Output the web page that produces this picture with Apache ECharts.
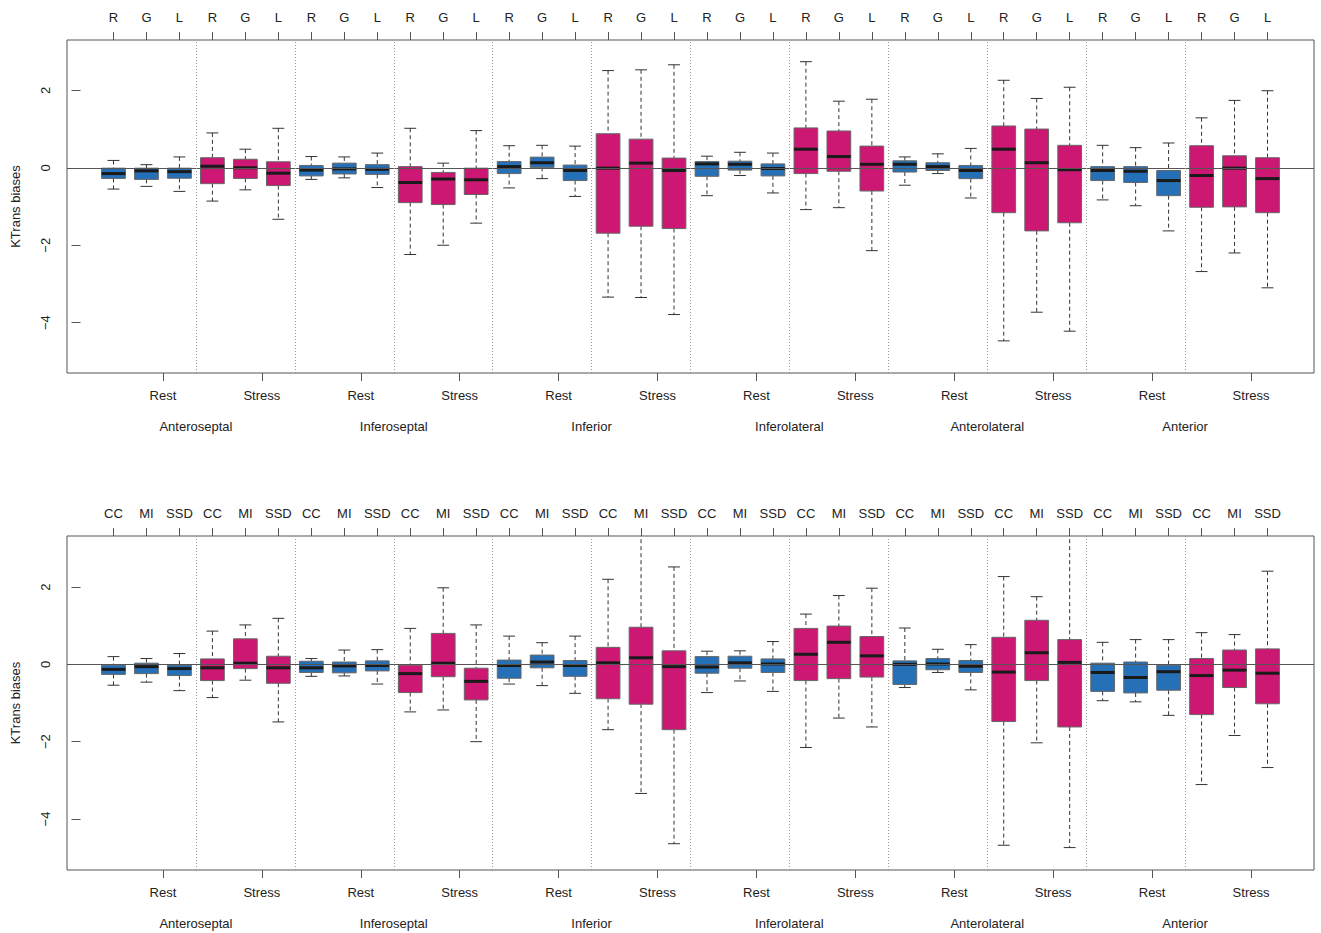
<!DOCTYPE html>
<html>
<head>
<meta charset="utf-8">
<script src="https://cdn.jsdelivr.net/npm/echarts@6/dist/echarts.min.js"></script>
<style>
html,body{margin:0;padding:0;background:#fff;}
#chart{width:1321px;height:933px;}
</style>
</head>
<body>
<div id="chart"></div>
<script>
// ---------- categories / tick labels ----------
const regions = ['Anteroseptal', 'Inferoseptal', 'Inferior', 'Inferolateral', 'Anterolateral', 'Anterior'];
const conditions = ['Rest', 'Stress'];
const methodsTop = ['R', 'G', 'L'];
const methodsBottom = ['CC', 'MI', 'SSD'];
const yTicks = [-4, -2, 0, 2];

// ---------- top panel (R / G / L), 36 boxes in order region > condition > method ----------
const topLow = [-0.55, -0.48, -0.61, -0.86, -0.57, -1.33, -0.30, -0.26, -0.51, -2.24, -2.00, -1.43,
  -0.52, -0.28, -0.74, -3.34, -3.35, -3.79, -0.72, -0.20, -0.65, -1.08, -1.03, -2.14,
  -0.45, -0.15, -0.78, -4.47, -3.73, -4.22, -0.83, -0.98, -1.63, -2.68, -2.20, -3.10];
const topQ1 = [-0.275, -0.30, -0.27, -0.41, -0.275, -0.46, -0.21, -0.16, -0.17, -0.90, -0.95, -0.69,
  -0.15, 0.01, -0.33, -1.69, -1.51, -1.57, -0.22, -0.06, -0.21, -0.15, -0.09, -0.60,
  -0.11, -0.07, -0.28, -1.16, -1.63, -1.42, -0.33, -0.38, -0.72, -1.02, -1.01, -1.16];
const topMed = [-0.15, -0.08, -0.10, 0.04, 0.00, -0.14, -0.06, -0.03, -0.04, -0.38, -0.29, -0.31,
  0.03, 0.13, -0.07, -0.01, 0.12, -0.07, 0.10, 0.09, -0.02, 0.48, 0.29, 0.09,
  0.09, 0.03, -0.07, 0.48, 0.13, -0.05, -0.07, -0.09, -0.33, -0.20, -0.01, -0.28];
const topQ3 = [-0.01, -0.01, -0.01, 0.26, 0.22, 0.155, 0.06, 0.12, 0.08, 0.03, -0.12, -0.01,
  0.16, 0.275, 0.07, 0.88, 0.74, 0.25, 0.16, 0.17, 0.10, 1.03, 0.95, 0.56,
  0.18, 0.13, 0.06, 1.08, 1.00, 0.58, 0.03, 0.03, -0.07, 0.57, 0.31, 0.26];
const topHigh = [0.19, 0.08, 0.28, 0.90, 0.48, 1.02, 0.29, 0.28, 0.38, 1.02, 0.12, 0.96,
  0.57, 0.58, 0.56, 2.51, 2.53, 2.66, 0.30, 0.40, 0.38, 2.74, 1.72, 1.77,
  0.28, 0.36, 0.50, 2.26, 1.79, 2.08, 0.58, 0.52, 0.64, 1.29, 1.74, 1.99];

// ---------- bottom panel (CC / MI / SSD) ----------
const botLow = [-0.54, -0.46, -0.68, -0.86, -0.41, -1.49, -0.31, -0.30, -0.51, -1.23, -1.18, -2.00,
  -0.51, -0.55, -0.75, -1.69, -3.34, -4.64, -0.73, -0.43, -0.70, -2.15, -1.39, -1.62,
  -0.60, -0.21, -0.66, -4.68, -2.03, -4.74, -0.94, -0.97, -1.32, -3.11, -1.84, -2.67];
const botQ1 = [-0.26, -0.24, -0.29, -0.42, -0.11, -0.49, -0.21, -0.22, -0.17, -0.73, -0.32, -0.92,
  -0.36, -0.09, -0.31, -0.89, -1.03, -1.69, -0.23, -0.10, -0.21, -0.42, -0.37, -0.33,
  -0.52, -0.14, -0.21, -1.48, -0.42, -1.62, -0.70, -0.74, -0.67, -1.30, -0.60, -1.02];
const botMed = [-0.13, -0.06, -0.11, -0.09, 0.03, -0.09, -0.09, -0.04, -0.03, -0.24, 0.03, -0.44,
  -0.03, 0.06, -0.03, 0.04, 0.17, -0.06, -0.07, 0.04, 0.01, 0.26, 0.57, 0.22,
  0.00, 0.01, -0.05, -0.20, 0.30, 0.05, -0.21, -0.34, -0.19, -0.29, -0.15, -0.23];
const botQ3 = [-0.02, 0.03, -0.02, 0.14, 0.66, 0.21, 0.08, 0.06, 0.09, -0.02, 0.80, -0.10,
  0.11, 0.24, 0.10, 0.44, 0.96, 0.35, 0.20, 0.21, 0.14, 0.93, 0.99, 0.72,
  0.09, 0.15, 0.10, 0.70, 1.14, 0.64, 0.03, 0.06, -0.02, 0.15, 0.37, 0.40];
const botHigh = [0.20, 0.15, 0.28, 0.86, 1.02, 1.19, 0.15, 0.37, 0.38, 0.93, 1.98, 1.02,
  0.73, 0.56, 0.73, 2.20, 3.60, 2.52, 0.34, 0.35, 0.59, 1.30, 1.78, 1.97,
  0.94, 0.39, 0.51, 2.27, 1.75, 3.60, 0.57, 0.64, 0.64, 0.82, 0.77, 2.41];

// ---------- styling ----------
const FONT = "'Liberation Sans', Arial, Helvetica, sans-serif";
const TXT = '#222';
const FRAME = '#555';
const COLORS = { Rest: '#2670b8', Stress: '#cc1873' };
const X_MIN = -0.41, X_MAX = 37.41;

const nBox = regions.length * conditions.length * 3;
const boxPos = Array.from({ length: nBox }, (_, i) => i + 1);
const condPos = Array.from({ length: regions.length * 2 }, (_, i) => 2.5 + 3 * i);
const regionPos = regions.map((_, i) => 3.5 + 6 * i);
const sepPos = Array.from({ length: regions.length * 2 - 1 }, (_, i) => 3.5 + 3 * i);

function buildData(low, q1, med, q3, high) {
  return boxPos.map((p, i) => {
    const cond = Math.floor(i / 3) % 2;
    return [p, low[i], q1[i], med[i], q3[i], high[i], cond];
  });
}

function renderBox(params, api) {
  const x = api.value(0);
  const lo = api.coord([x, api.value(1)]);
  const q1 = api.coord([x, api.value(2)]);
  const md = api.coord([x, api.value(3)]);
  const q3 = api.coord([x, api.value(4)]);
  const hi = api.coord([x, api.value(5)]);
  const cond = api.value(6);
  const half = api.size([0.72, 0])[0] / 2;
  const cap = half * 0.5;
  const cx = lo[0];
  const dash = { stroke: '#333', lineWidth: 1, lineDash: [4, 3] };
  const solid = { stroke: '#333', lineWidth: 1 };
  return {
    type: 'group',
    children: [
      { type: 'line', shape: { x1: cx, y1: hi[1], x2: cx, y2: q3[1] }, style: dash },
      { type: 'line', shape: { x1: cx, y1: q1[1], x2: cx, y2: lo[1] }, style: dash },
      { type: 'line', shape: { x1: cx - cap, y1: hi[1], x2: cx + cap, y2: hi[1] }, style: solid },
      { type: 'line', shape: { x1: cx - cap, y1: lo[1], x2: cx + cap, y2: lo[1] }, style: solid },
      { type: 'rect', shape: { x: cx - half, y: q3[1], width: 2 * half, height: q1[1] - q3[1] },
        style: { fill: cond ? COLORS.Stress : COLORS.Rest, stroke: '#666', lineWidth: 1 } },
      { type: 'line', shape: { x1: cx - half, y1: md[1], x2: cx + half, y2: md[1] },
        style: { stroke: '#1a1a1a', lineWidth: 3 } }
    ]
  };
}

const grids = [
  { left: 67, right: 7, top: 40, height: 333, yMin: -5.30, yMax: 3.30, methods: methodsTop,
    data: buildData(topLow, topQ1, topMed, topQ3, topHigh) },
  { left: 67, right: 7, top: 536, height: 334, yMin: -5.32, yMax: 3.32, methods: methodsBottom,
    data: buildData(botLow, botQ1, botMed, botQ3, botHigh) }
];

const option = {
  backgroundColor: '#fff',
  animation: false,
  textStyle: { fontFamily: FONT },
  grid: grids.map(g => ({ left: g.left, right: g.right, top: g.top, height: g.height,
    show: true, borderColor: FRAME, borderWidth: 1, backgroundColor: 'transparent' })),
  xAxis: [],
  yAxis: [],
  series: []
};

grids.forEach((g, gi) => {
  const base = option.xAxis.length;
  // main top axis: method labels
  option.xAxis.push({
    type: 'value', gridIndex: gi, position: 'top', min: X_MIN, max: X_MAX,
    axisLine: { show: false, onZero: false },
    splitLine: { show: false },
    axisTick: { show: true, customValues: boxPos, length: 8, lineStyle: { color: FRAME } },
    axisLabel: { show: true, customValues: boxPos, margin: 16, fontSize: 13, color: TXT, fontFamily: FONT,
      formatter: v => g.methods[(Math.round(v) - 1) % 3] }
  });
  // bottom axis: Rest / Stress
  option.xAxis.push({
    type: 'value', gridIndex: gi, position: 'bottom', min: X_MIN, max: X_MAX,
    axisLine: { show: false, onZero: false },
    splitLine: { show: false },
    axisTick: { show: true, customValues: condPos, length: 8, lineStyle: { color: FRAME } },
    axisLabel: { show: true, customValues: condPos, margin: 16, fontSize: 13, color: TXT, fontFamily: FONT,
      formatter: v => conditions[Math.round((v - 2.5) / 3) % 2] }
  });
  // bottom axis: regions
  option.xAxis.push({
    type: 'value', gridIndex: gi, position: 'bottom', min: X_MIN, max: X_MAX,
    axisLine: { show: false, onZero: false },
    splitLine: { show: false },
    axisTick: { show: false },
    axisLabel: { show: true, customValues: regionPos, margin: 47, fontSize: 13, color: TXT, fontFamily: FONT,
      formatter: v => regions[Math.round((v - 3.5) / 6)] }
  });
  option.yAxis.push({
    type: 'value', gridIndex: gi, min: g.yMin, max: g.yMax,
    name: 'KTrans biases', nameLocation: 'middle', nameGap: 45,
    nameTextStyle: { fontSize: 13, color: TXT, fontFamily: FONT },
    axisLine: { show: false },
    splitLine: { show: false },
    axisTick: { show: true, customValues: yTicks, length: 9, lineStyle: { color: FRAME } },
    axisLabel: { show: true, customValues: yTicks, rotate: 90, margin: 15, fontSize: 13, color: TXT, fontFamily: FONT,
      formatter: v => (v < 0 ? '\u2212' + Math.abs(v) : String(v)) }
  });
  // reference lines (zero line + dotted group separators)
  option.series.push({
    type: 'line', xAxisIndex: base, yAxisIndex: gi, data: [], z: 1, silent: true,
    markLine: {
      silent: true, symbol: 'none', animation: false, label: { show: false },
      data: [
        { yAxis: 0, lineStyle: { color: '#555', width: 1, type: 'solid' } },
        ...sepPos.map(p => ({ xAxis: p, lineStyle: { color: '#999', width: 1, type: [1, 2] } }))
      ]
    }
  });
  option.series.push({
    type: 'custom', xAxisIndex: base, yAxisIndex: gi, z: 3, clip: true,
    renderItem: renderBox,
    encode: { x: 0, y: [1, 2, 3, 4, 5] },
    data: g.data
  });
});

const chart = echarts.init(document.getElementById('chart'), null, { renderer: 'svg', width: 1321, height: 933 });
chart.setOption(option);
</script>
</body>
</html>
